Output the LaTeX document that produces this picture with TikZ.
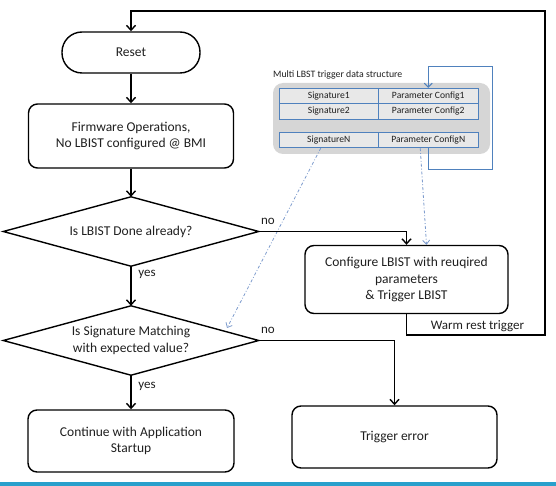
\documentclass[tikz,border=0pt]{standalone}
\usepackage{fontspec}
\setmainfont{Carlito}
\usetikzlibrary{arrows.meta,calc}
\definecolor{tblue}{RGB}{79,129,189}
\definecolor{dblue}{RGB}{125,155,205}
\definecolor{band}{RGB}{41,160,204}
\definecolor{gbg}{RGB}{214,214,214}
\definecolor{cellbg}{RGB}{232,232,232}
\begin{document}
\begin{tikzpicture}[x=1pt,y=-1pt,
  every node/.style={font=\fontsize{13.5}{16.5}\selectfont, text=black!88},
  flow/.style={draw, line width=1.4pt, rounded corners=9pt, align=center, inner sep=0pt},
  dec/.style={rectangle, minimum width=255pt, minimum height=69pt, inner sep=0pt, align=center},
  decline/.style={line width=1.4pt, line join=miter},
  conn/.style={line width=1.4pt, line join=miter, -{Straight Barb[length=5pt,width=9pt]}},
  cell/.style={draw=tblue, line width=0.8pt, fill=cellbg, minimum width=99.5pt, minimum height=15.5pt, inner sep=0pt, font=\fontsize{9.6}{11}\selectfont},
  lbl/.style={font=\fontsize{13}{15}\selectfont}
]
\useasboundingbox (0,0) rectangle (556,486);
\fill[band] (0,482) rectangle (556,486);

% main flow nodes
\node[flow, rounded corners=20pt, minimum width=138pt, minimum height=41pt] (reset) at (131,52.5) {Reset};
\node[flow, minimum width=205pt, minimum height=64pt] (fw) at (131,136) {Firmware Operations,\\No LBIST configured @ BMI};
\node[dec] (d1) at (131,231.5) {Is LBIST Done already?};
\draw[decline] (d1.north) -- (d1.east) -- (d1.south) -- (d1.west) -- cycle;
\node[dec] (d2) at (131,340.5) {Is Signature Matching\\with expected value?};
\draw[decline] (d2.north) -- (d2.east) -- (d2.south) -- (d2.west) -- cycle;
\node[flow, minimum width=203pt, minimum height=68pt] (cfg) at (406.5,279.5) {Configure LBIST with reuqired\\parameters\\\& Trigger LBIST};
\node[flow, minimum width=206pt, minimum height=62pt] (cont) at (131,441) {Continue with Application\\Startup};
\node[flow, minimum width=205pt, minimum height=62pt] (err) at (394.5,437) {Trigger error};

% data structure
\node[fill=gbg, rounded corners=10pt, minimum width=217pt, minimum height=71pt, inner sep=0pt] (ds) at (381.5,118.5) {};
\node[anchor=base west, font=\fontsize{9.8}{11}\selectfont, inner sep=0pt] (dstitle) at (273,78) {Multi LBST trigger data structure};
\node[cell] (s1) at (328.75,96) {Signature1};
\node[cell] (c1) at (428.25,96) {Parameter Config1};
\node[cell] (s2) at (328.75,111.5) {Signature2};
\node[cell] (c2) at (428.25,111.5) {Parameter Config2};
\node[cell] (sn) at (328.75,140) {SignatureN};
\node[cell] (cn) at (428.25,140) {Parameter ConfigN};

\draw[tblue, line width=1pt, -{Straight Barb[length=4pt,width=8pt]}] (cn.south) -- ++(0,21) -| (492,67) -| (c1.north);

\coordinate (t2) at (227,328);
\draw[dblue, line width=0.8pt, dash dot, -{Straight Barb[length=4pt,width=7pt]}] ([xshift=-8pt]sn.south) -- (t2);
\draw[dblue, line width=0.8pt, dash dot, -{Straight Barb[length=4pt,width=7pt]}] ([xshift=-8pt]cn.south) -- ([xshift=20pt]cfg.north);

% connectors
\draw[conn] (reset) -- (fw);
\draw[conn] (fw) -- (d1);
\draw[conn] (d1) -- (d2);
\draw[conn] (d2) -- (cont);
\draw[conn] (d1.east) -| (cfg.north);
\draw[conn] (d2.east) -| (err.north);
\coordinate (w1) at (406.5,335);
\coordinate (w2) at (545,335);
\coordinate (w3) at (545,11);
\coordinate (w4) at (131,11);
\draw[conn] (cfg.south) -- (w1) -- (w2) -- (w3) -- (w4) -- (reset.north);

% labels
\node[lbl] (no1) at (268,221) {no};
\node[lbl] (no2) at (268,330) {no};
\node[lbl] (yes1) at (147,274) {yes};
\node[lbl] (yes2) at (147,386) {yes};
\node[lbl] (warm) at (477.5,326) {Warm rest trigger};
\end{tikzpicture}
\end{document}
